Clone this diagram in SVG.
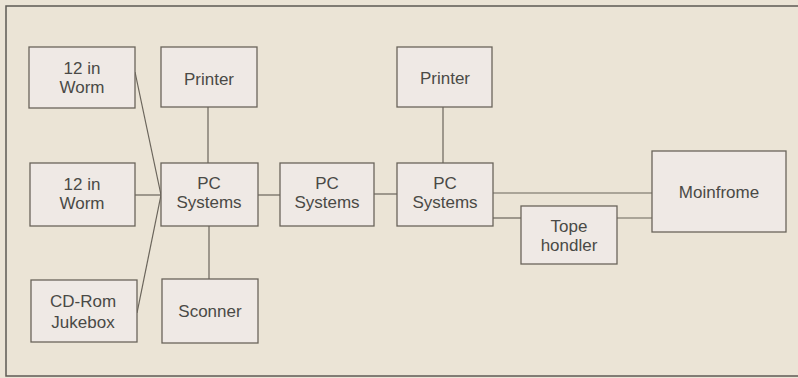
<svg xmlns="http://www.w3.org/2000/svg" width="798" height="378" viewBox="0 0 798 378">
<style>
.box{fill:#efe9e5;stroke:#6a645b;stroke-width:1.3}
.t{font-family:"Liberation Sans",Arial,sans-serif;font-size:17px;fill:#4a4946;text-anchor:middle}
.c{stroke:#6a645b;stroke-width:1.2;fill:none}
</style>
<rect x="0" y="0" width="798" height="378" fill="#ebe4d6"/>
<rect x="6" y="6" width="795" height="370" fill="none" stroke="#5e5a54" stroke-width="1.5"/>
<g id="connectors">
<line class="c" x1="135" y1="72" x2="161" y2="195"/>
<line class="c" x1="135" y1="195" x2="161" y2="195"/>
<line class="c" x1="137" y1="313" x2="161" y2="195"/>
<line class="c" x1="208" y1="107" x2="208" y2="163"/>
<line class="c" x1="209" y1="226" x2="209" y2="279"/>
<line class="c" x1="258" y1="195" x2="280" y2="195"/>
<line class="c" x1="374" y1="194" x2="397" y2="194"/>
<line class="c" x1="443" y1="107" x2="443" y2="163"/>
<line class="c" x1="493" y1="193" x2="652" y2="193"/>
<line class="c" x1="493" y1="218" x2="521" y2="218"/>
<line class="c" x1="617" y1="218" x2="652" y2="218"/>
</g>
<g id="worm1"><rect class="box" x="29" y="47" width="106" height="61"/><text class="t" x="82" y="74">12 in</text><text class="t" x="82" y="93">Worm</text></g>
<g id="printer1"><rect class="box" x="161" y="47" width="96" height="60"/><text class="t" x="209" y="85">Printer</text></g>
<g id="worm2"><rect class="box" x="30" y="163" width="105" height="63"/><text class="t" x="82" y="190">12 in</text><text class="t" x="82" y="209">Worm</text></g>
<g id="pc1"><rect class="box" x="161" y="163" width="97" height="63"/><text class="t" x="209" y="189">PC</text><text class="t" x="209" y="208">Systems</text></g>
<g id="cdrom"><rect class="box" x="31" y="280" width="106" height="62"/><text class="t" x="83" y="307">CD-Rom</text><text class="t" x="83" y="328">Jukebox</text></g>
<g id="scanner"><rect class="box" x="162" y="279" width="96" height="64"/><text class="t" x="210" y="317">Sconner</text></g>
<g id="pc2"><rect class="box" x="280" y="163" width="94" height="63"/><text class="t" x="327" y="189">PC</text><text class="t" x="327" y="208">Systems</text></g>
<g id="printer2"><rect class="box" x="397" y="47" width="95" height="60"/><text class="t" x="445" y="84">Printer</text></g>
<g id="pc3"><rect class="box" x="397" y="163" width="96" height="63"/><text class="t" x="445" y="189">PC</text><text class="t" x="445" y="208">Systems</text></g>
<g id="tape"><rect class="box" x="521" y="206" width="96" height="58"/><text class="t" x="569" y="232">Tope</text><text class="t" x="569" y="251">hondler</text></g>
<g id="mainframe"><rect class="box" x="652" y="151" width="134" height="81"/><text class="t" x="719" y="198">Moinfrome</text></g>
</svg>
